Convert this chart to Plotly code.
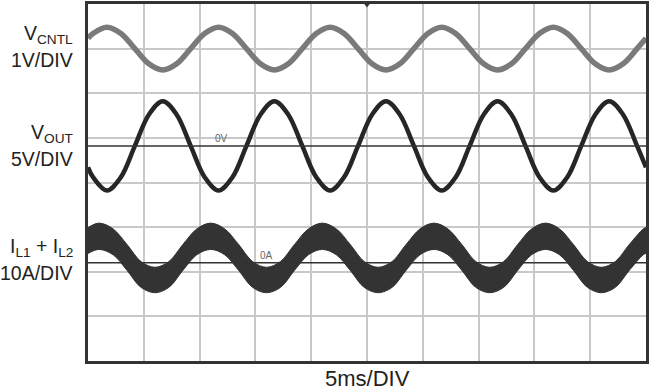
import plotly.graph_objects as go

# time axis (ms), 5 ms/DIV, 10 divisions
t_v = [0.0, 0.45, 1.7, 2.95, 4.2, 5.45, 6.7, 7.95, 9.2, 10.45, 11.7, 12.95, 14.2, 15.45,
       16.7, 17.95, 19.2, 20.45, 21.7, 22.95, 24.2, 25.45, 26.7, 27.95, 29.2, 30.45,
       31.7, 32.95, 34.2, 35.45, 36.7, 37.95, 39.2, 40.45, 41.7, 42.95, 44.2, 45.45,
       46.7, 47.95, 49.2, 50.0]

# V_CNTL (V), 1V/DIV
vcntl = [0.23, 0.34, 0.48, 0.34, 0.0, -0.34, -0.48, -0.34, 0.0, 0.34, 0.48, 0.34, 0.0,
         -0.34, -0.48, -0.34, 0.0, 0.34, 0.48, 0.34, 0.0, -0.34, -0.48, -0.34, 0.0, 0.34,
         0.48, 0.34, 0.0, -0.34, -0.48, -0.34, 0.0, 0.34, 0.48, 0.34, 0.0, -0.34, -0.48,
         -0.34, 0.0, 0.23]

# V_OUT (V), 5V/DIV
vout = [-2.4, -3.5, -5.0, -3.5, 0.0, 3.5, 5.0, 3.5, 0.0, -3.5, -5.0, -3.5, 0.0, 3.5, 5.0,
        3.5, 0.0, -3.5, -5.0, -3.5, 0.0, 3.5, 5.0, 3.5, 0.0, -3.5, -5.0, -3.5, 0.0, 3.5,
        5.0, 3.5, 0.0, -3.5, -5.0, -3.5, 0.0, 3.5, 5.0, 3.5, 0.0, -2.4]

t_i = [0.0, 1.0, 2.25, 3.5, 4.75, 6.0, 7.25, 8.5, 9.75, 11.0, 12.25, 13.5, 14.75, 16.0,
       17.25, 18.5, 19.75, 21.0, 22.25, 23.5, 24.75, 26.0, 27.25, 28.5, 29.75, 31.0,
       32.25, 33.5, 34.75, 36.0, 37.25, 38.5, 39.75, 41.0, 42.25, 43.5, 44.75, 46.0,
       47.25, 48.5, 49.75, 50.0]

# I_L1 + I_L2 ripple envelope (A), 10A/DIV
il_upper = [7.9, 8.9, 7.6, 4.1, 0.3, -1.0, 0.3, 4.1, 7.6, 8.9, 7.6, 4.1, 0.3, -1.0,
            0.3, 4.1, 7.6, 8.9, 7.6, 4.1, 0.3, -1.0, 0.3, 4.1, 7.6, 8.9, 7.6, 4.1,
            0.3, -1.0, 0.3, 4.1, 7.6, 8.9, 7.6, 4.1, 0.3, -1.0, 0.3, 4.1, 7.6, 7.9]
il_lower = [2.1, 3.0, 1.8, -1.7, -5.5, -6.7, -5.5, -1.7, 1.8, 3.0, 1.8, -1.7, -5.5, -6.7,
            -5.5, -1.7, 1.8, 3.0, 1.8, -1.7, -5.5, -6.7, -5.5, -1.7, 1.8, 3.0, 1.8, -1.7,
            -5.5, -6.7, -5.5, -1.7, 1.8, 3.0, 1.8, -1.7, -5.5, -6.7, -5.5, -1.7, 1.8, 2.1]

FONT = "Liberation Sans, Arial, sans-serif"

fig = go.Figure()
fig.add_trace(go.Scatter(x=t_i, y=il_lower, yaxis="y4", mode="lines",
                         line=dict(color="#333333", width=1, shape="spline"),
                         hoverinfo="skip", showlegend=False))
fig.add_trace(go.Scatter(x=t_i, y=il_upper, yaxis="y4", mode="lines", fill="tonexty",
                         fillcolor="#333333",
                         line=dict(color="#333333", width=1, shape="spline"),
                         hoverinfo="skip", showlegend=False))
fig.add_trace(go.Scatter(x=t_v, y=vout, yaxis="y3", mode="lines",
                         line=dict(color="#262626", width=4.5, shape="spline"),
                         hoverinfo="skip", showlegend=False))
fig.add_trace(go.Scatter(x=t_v, y=vcntl, yaxis="y2", mode="lines",
                         line=dict(color="#7a7a7a", width=5.5, shape="spline"),
                         hoverinfo="skip", showlegend=False))
fig.add_trace(go.Scatter(x=[25], y=[8], mode="markers", cliponaxis=False,
                         marker=dict(symbol="triangle-down", size=7, color="#333333"),
                         hoverinfo="skip", showlegend=False))

grid = dict(showgrid=True, gridcolor="#c8c8c8", gridwidth=2, zeroline=False,
            showticklabels=False, ticks="", showline=True, mirror=True,
            linecolor="#333333", linewidth=2.5)

fig.update_layout(
    width=650, height=390,
    margin=dict(l=88, r=1, t=1, b=29),
    paper_bgcolor="white", plot_bgcolor="white",
    font=dict(family=FONT, color="#222222"),
    xaxis=dict(range=[0, 50], dtick=5, **grid),
    yaxis=dict(range=[0, 8], dtick=1, **grid),
    yaxis2=dict(range=[-7, 1], overlaying="y", visible=False),
    yaxis3=dict(range=[-24.1, 15.9], overlaying="y", visible=False),
    yaxis4=dict(range=[-22, 58], overlaying="y", visible=False),
    shapes=[
        dict(type="line", xref="paper", x0=0, x1=1, yref="y3", y0=0, y1=0,
             line=dict(color="#333333", width=1.5)),
        dict(type="line", xref="paper", x0=0, x1=1, yref="y4", y0=0, y1=0,
             line=dict(color="#333333", width=1.5)),
    ],
)

def px_to_paper(py):
    return (361 - py) / 360.0

SUB = "<sub style='font-size:15px'>{}</sub>"
labels = [
    ("V" + SUB.format("CNTL"), 32),
    ("1V/DIV", 57),
    ("V" + SUB.format("OUT"), 132),
    ("5V/DIV", 157),
    ("I" + SUB.format("L1") + " + I" + SUB.format("L2"), 247),
    ("10A/DIV", 272),
]
for txt, py in labels:
    fig.add_annotation(text=txt, xref="paper", yref="paper", x=0, y=px_to_paper(py),
                       xanchor="right", yanchor="middle", xshift=-13, showarrow=False,
                       font=dict(size=19.5, family=FONT, color="#222222"))

fig.add_annotation(text="5ms/DIV", xref="paper", yref="paper", x=0.5,
                   y=px_to_paper(378.5), xanchor="center", yanchor="middle",
                   showarrow=False, font=dict(size=22, family=FONT, color="#222222"))

fig.add_annotation(text="0V", x=12.0, y=0.8, yref="y3", showarrow=False,
                   font=dict(size=10, family=FONT, color="#666666"))
fig.add_annotation(text="0A", x=16.0, y=1.7, yref="y4", showarrow=False,
                   font=dict(size=10, family=FONT, color="#666666"))

fig.write_html("out.html")
